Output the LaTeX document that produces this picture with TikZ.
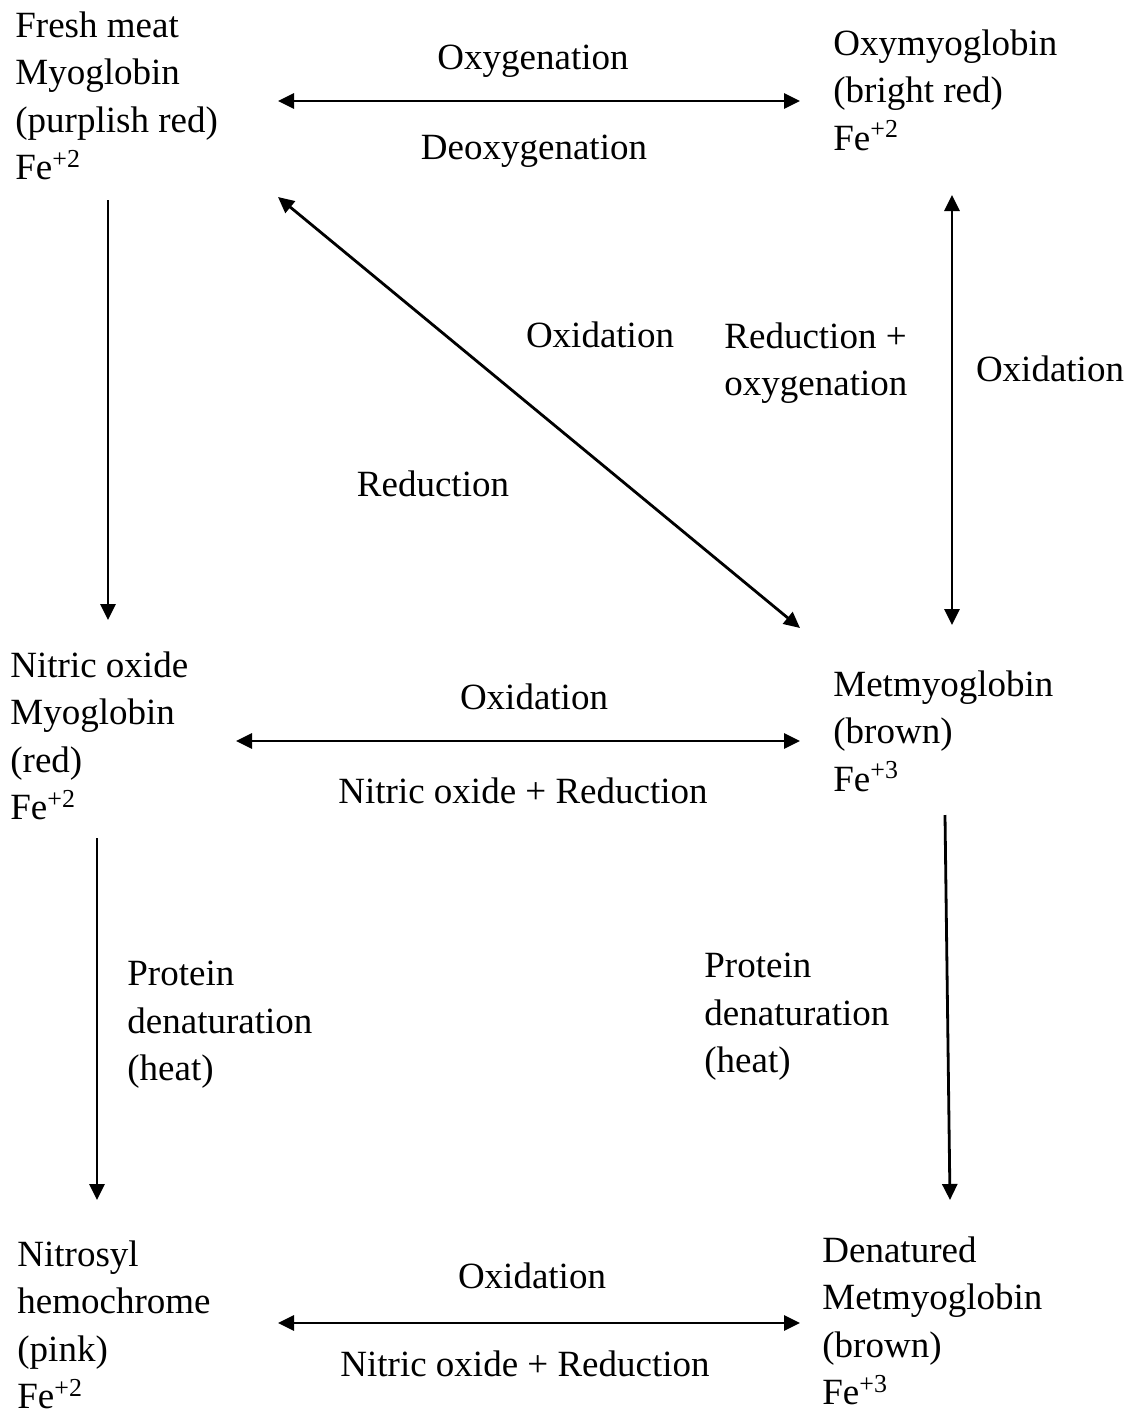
\documentclass[tikz,border=0pt]{standalone}
\usepackage{fontspec}
\setmainfont{Liberation Serif}
\usetikzlibrary{arrows.meta}
\begin{document}
\begin{tikzpicture}[x=0.5pt,y=-0.5pt,
  txt/.style={inner sep=0pt, align=left, anchor=west, font=\fontsize{18.5pt}{23.75pt}\selectfont},
  lbl/.style={inner sep=0pt, font=\fontsize{18.5pt}{23.75pt}\selectfont},
  arr/.style={line width=1.4pt, -{Triangle[length=8pt,width=7.5pt]}},
  darr/.style={line width=1.4pt, {Triangle[length=8pt,width=7.5pt]}-{Triangle[length=8pt,width=7.5pt]}}]
\useasboundingbox (0,0) rectangle (1137,1414);
% species
\node[txt] (fresh) at (15,96) {Fresh meat\\Myoglobin\\(purplish red)\\Fe\textsuperscript{+2}};
\node[txt] (oxy) at (833,90) {Oxymyoglobin\\(bright red)\\Fe\textsuperscript{+2}};
\node[txt] (nitric) at (10,736) {Nitric oxide\\Myoglobin\\(red)\\Fe\textsuperscript{+2}};
\node[txt] (met) at (833,731) {Metmyoglobin\\(brown)\\Fe\textsuperscript{+3}};
\node[txt] (nitrosyl) at (17,1325) {Nitrosyl\\hemochrome\\(pink)\\Fe\textsuperscript{+2}};
\node[txt] (denat) at (822,1321) {Denatured\\Metmyoglobin\\(brown)\\Fe\textsuperscript{+3}};
% arrow end points
\coordinate (a1) at (278,101); \coordinate (b1) at (800,101);
\coordinate (a2) at (108,200); \coordinate (b2) at (108,620);
\coordinate (a3) at (278,197); \coordinate (b3) at (800,628);
\coordinate (a4) at (952,195); \coordinate (b4) at (952,625);
\coordinate (a5) at (236,741); \coordinate (b5) at (800,741);
\coordinate (a6) at (97,838); \coordinate (b6) at (97,1200);
\coordinate (a7) at (945,815); \coordinate (b7) at (950,1200);
\coordinate (a8) at (278,1323); \coordinate (b8) at (800,1323);
\draw[darr] (a1) -- (b1);
\draw[arr] (a2) -- (b2);
\draw[darr] (a3) -- (b3);
\draw[darr] (a4) -- (b4);
\draw[darr] (a5) -- (b5);
\draw[arr] (a6) -- (b6);
\draw[arr] (a7) -- (b7);
\draw[darr] (a8) -- (b8);
% labels
\node[lbl] (l1) at (533,61) {Oxygenation};
\node[lbl] (l2) at (534,151) {Deoxygenation};
\node[lbl] (l3) at (600,335) {Oxidation};
\node[txt] (l4) at (724,363) {Reduction +\\oxygenation};
\node[lbl] (l5) at (1050,369) {Oxidation};
\node[lbl] (l6) at (433,484) {Reduction};
\node[lbl] (l7) at (534,697) {Oxidation};
\node[lbl] (l8) at (523,791) {Nitric oxide + Reduction};
\node[txt] (l9) at (127,1025) {Protein\\denaturation\\(heat)};
\node[txt] (l10) at (704,1017) {Protein\\denaturation\\(heat)};
\node[lbl] (l11) at (532,1276) {Oxidation};
\node[lbl] (l12) at (525,1364) {Nitric oxide + Reduction};
\end{tikzpicture}
\end{document}
